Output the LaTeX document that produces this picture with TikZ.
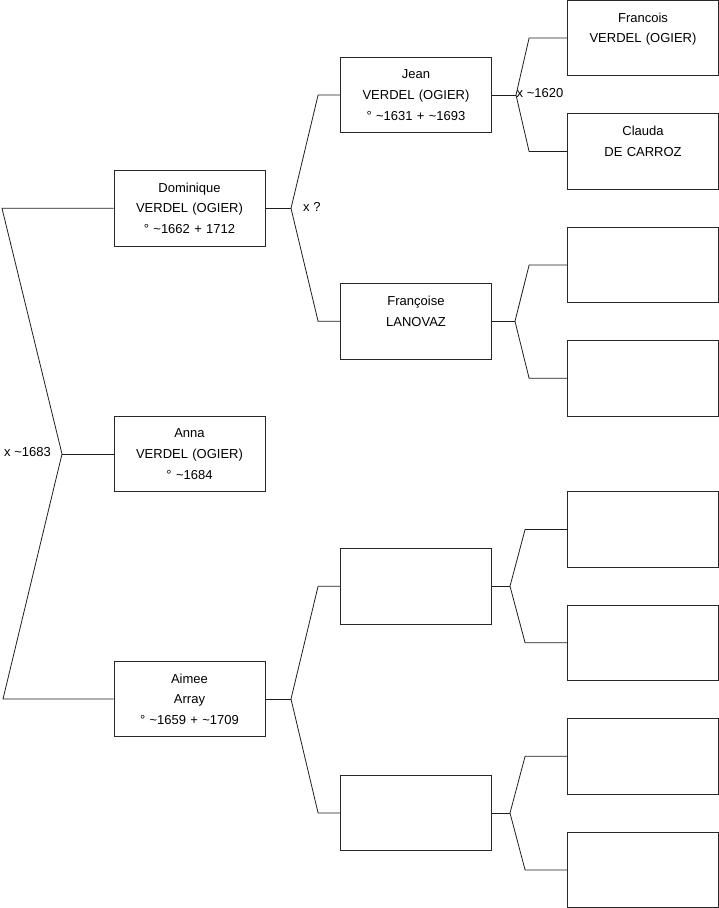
\documentclass[tikz,border=0pt]{standalone}
\usepackage{fontspec}
\setmainfont{Liberation Sans}
\usepackage{xcolor}
\usepackage{tikz}
\usetikzlibrary{positioning}
\definecolor{BoxLine}{RGB}{40, 40, 40}
\definecolor{LinkLine}{RGB}{30, 30, 30}
\tikzset{
    person/.style={rectangle, draw=BoxLine, line width=0.8pt, minimum width=151pt, minimum height=75.5pt,
        inner sep=0pt, text width=148pt, align=center, font=\fontsize{13}{20.6}\selectfont},
    link/.style={draw=LinkLine, line width=0.8pt},
    union/.style={font=\fontsize{13}{16}\selectfont, inner sep=0pt}
}

\begin{document}
\begin{tikzpicture}[x=1pt, y=-1pt]
    \useasboundingbox (0,0) rectangle (719,908);

    % generation 1
    \node[person] (dominique) at (189.5,208.3) {Dominique\\VERDEL (OGIER)\\° \textasciitilde1662 + 1712};
    \node[person] (anna) at (189.5,454) {Anna\\VERDEL (OGIER)\\° \textasciitilde1684};
    \node[person] (aimee) at (189.5,699) {Aimee\\Array\\° \textasciitilde1659 + \textasciitilde1709};

    % generation 2
    \node[person] (jean) at (416,95) {Jean\\VERDEL (OGIER)\\° \textasciitilde1631 + \textasciitilde1693};
    \node[person] (francoise) at (416,321.3) {Françoise\\LANOVAZ\\\mbox{}};
    \node[person] (aimeeFather) at (416,586.2) {};
    \node[person] (aimeeMother) at (416,813) {};

    % generation 3
    \node[person] (francois) at (643,38) {Francois\\VERDEL (OGIER)\\\mbox{}};
    \node[person] (clauda) at (643,151.5) {Clauda\\DE CARROZ\\\mbox{}};
    \node[person] (francoiseFather) at (643,265) {};
    \node[person] (francoiseMother) at (643,378.3) {};
    \node[person] (fatherFather) at (643,529.4) {};
    \node[person] (fatherMother) at (643,642.8) {};
    \node[person] (motherFather) at (643,756.3) {};
    \node[person] (motherMother) at (643,870) {};

    % union points
    \coordinate (annaUnion) at (62,454);
    \coordinate (dominiqueEnd) at (2,208.3);
    \coordinate (aimeeEnd) at (3,699);
    \coordinate (dominiqueUnion) at (291,208.3);
    \coordinate (jeanUnion) at (516,95);
    \coordinate (francoiseUnion) at (515,321.3);
    \coordinate (fatherUnion) at (510,586.2);
    \coordinate (motherUnion) at (510,813);

    % links
    \draw[link] (dominique.west) -- (dominiqueEnd) -- (annaUnion) -- (aimeeEnd) -- (aimee.west);
    \draw[link] (annaUnion) -- (anna.west);
    \draw[link] (dominique.east) -- (dominiqueUnion);
    \draw[link] (dominiqueUnion) -- ([xshift=-22pt]jean.west) -- (jean.west);
    \draw[link] (dominiqueUnion) -- ([xshift=-22pt]francoise.west) -- (francoise.west);
    \draw[link] (jean.east) -- (jeanUnion);
    \draw[link] (jeanUnion) -- ([xshift=-38pt]francois.west) -- (francois.west);
    \draw[link] (jeanUnion) -- ([xshift=-38pt]clauda.west) -- (clauda.west);
    \draw[link] (francoise.east) -- (francoiseUnion);
    \draw[link] (francoiseUnion) -- ([xshift=-38pt]francoiseFather.west) -- (francoiseFather.west);
    \draw[link] (francoiseUnion) -- ([xshift=-38pt]francoiseMother.west) -- (francoiseMother.west);
    \draw[link] (aimee.east) -- (dominiqueUnion |- aimee.east) coordinate (aimeeUnion);
    \draw[link] (aimeeUnion) -- ([xshift=-22pt]aimeeFather.west) -- (aimeeFather.west);
    \draw[link] (aimeeUnion) -- ([xshift=-22pt]aimeeMother.west) -- (aimeeMother.west);
    \draw[link] (aimeeFather.east) -- (fatherUnion);
    \draw[link] (fatherUnion) -- ([xshift=-42pt]fatherFather.west) -- (fatherFather.west);
    \draw[link] (fatherUnion) -- ([xshift=-42pt]fatherMother.west) -- (fatherMother.west);
    \draw[link] (aimeeMother.east) -- (motherUnion);
    \draw[link] (motherUnion) -- ([xshift=-42pt]motherFather.west) -- (motherFather.west);
    \draw[link] (motherUnion) -- ([xshift=-42pt]motherMother.west) -- (motherMother.west);

    % marriage labels
    \node[union, anchor=east] (annaLabel) at (51,452) {x \textasciitilde1683};
    \node[union, anchor=west] (dominiqueLabel) at (303,207) {x ?};
    \node[union, anchor=west] (jeanLabel) at (516.5,93) {x \textasciitilde1620};
\end{tikzpicture}
\end{document}
